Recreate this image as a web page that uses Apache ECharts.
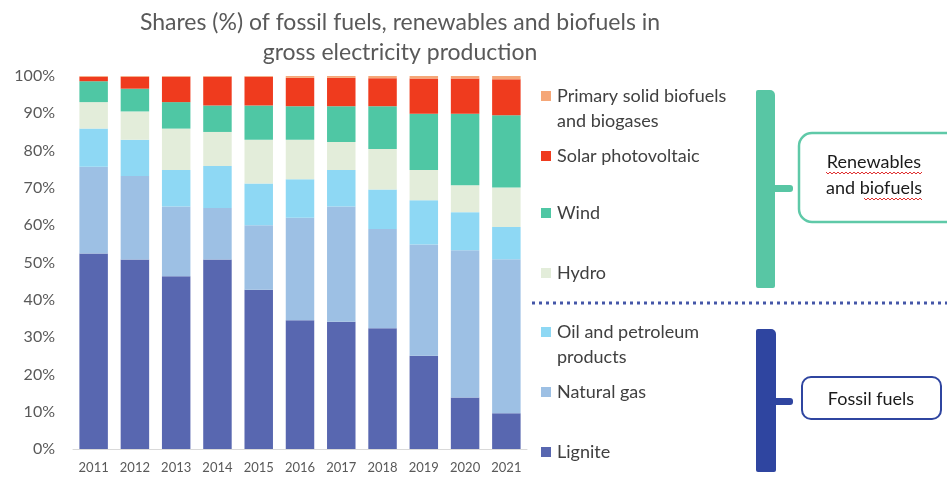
<!DOCTYPE html>
<html>
<head>
<meta charset="utf-8">
<script src="https://cdn.jsdelivr.net/npm/echarts@6/dist/echarts.min.js"></script>
<style>html,body{margin:0;padding:0;background:#fff}#c{width:947px;height:478px}</style>
</head>
<body>
<div id="c"></div>
<script>
const years = ['2011','2012','2013','2014','2015','2016','2017','2018','2019','2020','2021'];
const lignite    = [52.4, 50.8, 46.3, 50.8, 42.7, 34.5, 34.1, 32.4, 25.0, 13.8,  9.6];
const naturalGas = [23.3, 22.4, 18.7, 13.8, 17.3, 27.5, 30.9, 26.6, 29.8, 39.5, 41.3];
const oil        = [10.2,  9.7,  9.8, 11.3, 11.2, 10.3,  9.8, 10.6, 11.9, 10.2,  8.6];
const hydro      = [ 7.1,  7.6, 11.1,  9.1, 11.7, 10.6,  7.5, 10.8,  8.1,  7.2, 10.6];
const wind       = [ 5.6,  6.1,  7.1,  7.1,  9.2,  9.0,  9.6, 11.5, 15.1, 19.2, 19.4];
const solar      = [ 1.2,  3.2,  6.8,  7.7,  7.7,  7.6,  7.6,  7.5,  9.4,  9.4,  9.6];
const biofuels   = [ 0.2,  0.2,  0.2,  0.2,  0.2,  0.5,  0.5,  0.6,  0.7,  0.7,  0.9];
const yTicks = ['0%','10%','20%','30%','40%','50%','60%','70%','80%','90%','100%'];

const FONT = 'Lato, "Open Sans", sans-serif';
const seriesDefs = [
  {name:'Lignite', data:lignite, color:'#5867b0', legendTop:453, label:'Lignite'},
  {name:'Natural gas', data:naturalGas, color:'#9dc0e4', legendTop:393, label:'Natural gas'},
  {name:'Oil and petroleum products', data:oil, color:'#8ed8f4', legendTop:333, label:'Oil and petroleum'},
  {name:'Hydro', data:hydro, color:'#e3edda', legendTop:274, label:'Hydro'},
  {name:'Wind', data:wind, color:'#4fc7a4', legendTop:214, label:'Wind'},
  {name:'Solar photovoltaic', data:solar, color:'#ef3b1e', legendTop:157, label:'Solar photovoltaic'},
  {name:'Primary solid biofuels and biogases', data:biofuels, color:'#f5a778', legendTop:97, label:'Primary solid biofuels'}
];

const labelMap = {};
seriesDefs.forEach(s => labelMap[s.name] = s.label);

const legends = seriesDefs.map(s => ({
  data:[s.name], left:541, top:s.legendTop - 10, padding:0, itemGap:0,
  icon:'rect', itemWidth:10, itemHeight:10, itemStyle:{borderWidth:0},
  selectedMode:false,
  formatter: n => labelMap[n],
  textStyle:{fontFamily:FONT, fontSize:18, color:'#404040', padding:[0,0,0,1]}
}));

function zigzag(x0, x1, y) {
  const pts = [];
  let up = true;
  for (let x = x0; x <= x1; x += 2) { pts.push([x, up ? y : y + 2]); up = !up; }
  return pts;
}

const chart = echarts.init(document.getElementById('c'), null, {renderer:'canvas'});
chart.setOption({
  backgroundColor:'#fff',
  animation:false,
  title:{
    text:'Shares (%) of fossil fuels, renewables and biofuels in\ngross electricity production',
    left:395, top:3, textAlign:'center',
    textStyle:{fontFamily:FONT, fontSize:23, fontWeight:'normal', color:'#595959', lineHeight:30}
  },
  legend: legends,
  grid:{left:73, right:420, top:76, bottom:29, containLabel:false},
  xAxis:{
    type:'category', data:years,
    axisLine:{lineStyle:{color:'#d9d9d9', width:1}},
    axisTick:{show:false},
    axisLabel:{fontFamily:FONT, fontSize:13, color:'#595959', margin:12}
  },
  yAxis:{
    type:'value', min:0, max:100, interval:10,
    axisLine:{show:false}, axisTick:{show:false},
    splitLine:{show:false},
    axisLabel:{fontFamily:FONT, fontSize:16, color:'#595959', margin:18,
      formatter: v => yTicks[Math.round(v/10)]}
  },
  series: seriesDefs.map(s => ({
    name:s.name, type:'bar', stack:'total', data:s.data,
    barWidth:'69%', itemStyle:{color:s.color},
    emphasis:{disabled:true}
  })),
  graphic:[
    {type:'text', x:557, y:121, style:{text:'and biogases', font:'18px '+FONT, fill:'#404040', verticalAlign:'middle'}},
    {type:'text', x:557, y:357, style:{text:'products', font:'18px '+FONT, fill:'#404040', verticalAlign:'middle'}},
    // dotted separator
    {type:'line', shape:{x1:532, y1:303, x2:947, y2:303}, style:{stroke:'#4456a8', lineWidth:3, lineDash:[3,4]}},
    // green bracket
    {type:'rect', shape:{x:756, y:90, width:19, height:198, r:[2,5,2,2]}, style:{fill:'#58c6a4'}},
    {type:'rect', shape:{x:770, y:185, width:23, height:7, r:3}, style:{fill:'#58c6a4'}},
    // blue bracket
    {type:'rect', shape:{x:756, y:329, width:20, height:143, r:[2,5,2,2]}, style:{fill:'#2f45a0'}},
    {type:'rect', shape:{x:770, y:398, width:23, height:7, r:3}, style:{fill:'#2f45a0'}},
    // boxes
    {type:'rect', shape:{x:799, y:133, width:170, height:89, r:13}, style:{fill:'#fff', stroke:'#5fc9a8', lineWidth:2.5}},
    {type:'rect', shape:{x:802, y:377, width:139, height:42, r:9}, style:{fill:'#fff', stroke:'#2f45a0', lineWidth:2}},
    {type:'text', x:874, y:175, style:{text:'Renewables\nand biofuels', font:'18px '+FONT, fill:'#1a1a1a', align:'center', verticalAlign:'middle', lineHeight:26}},
    {type:'polyline', shape:{points:zigzag(826, 922, 172)}, style:{stroke:'#e03030', lineWidth:1, fill:null}},
    {type:'polyline', shape:{points:zigzag(864, 922, 198)}, style:{stroke:'#e03030', lineWidth:1, fill:null}},
    {type:'text', x:871, y:399, style:{text:'Fossil fuels', font:'18px '+FONT, fill:'#1a1a1a', align:'center', verticalAlign:'middle'}}
  ]
});
</script>
</body>
</html>
